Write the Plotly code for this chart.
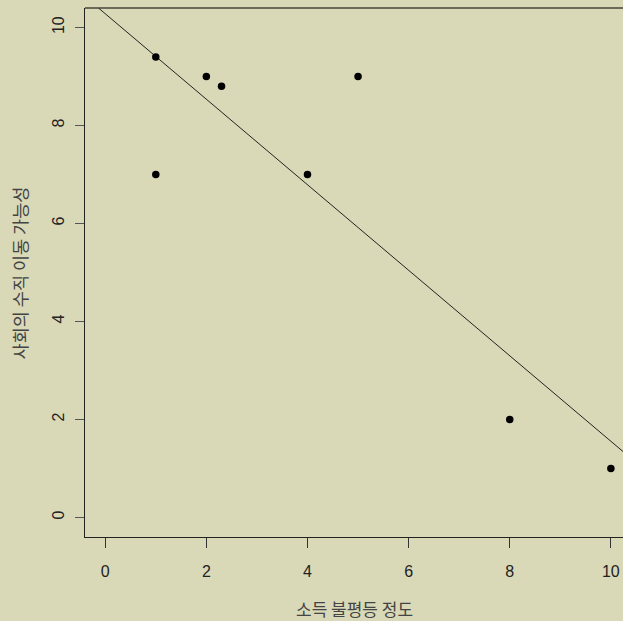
import numpy as np
import plotly.graph_objects as go

income_inequality = [1, 1, 2, 2.3, 4, 5, 8, 10]
social_mobility = [9.4, 7, 9, 8.8, 7, 9, 2, 1]
x_ticks = [0, 2, 4, 6, 8, 10]
y_ticks = [0, 2, 4, 6, 8, 10]
x_title = "소득 불평등 정도"
y_title = "사회의 수직 이동 가능성"

slope, intercept = np.polyfit(income_inequality, social_mobility, 1)
xr = [-0.4, 10.24]
yr = [-0.4, 10.4]
line_x = np.linspace(-1, 11, 50)
line_y = intercept + slope * line_x

bg = "#d9d9b8"
fig = go.Figure()
fig.add_trace(go.Scatter(x=line_x, y=line_y, mode="lines",
                         line=dict(color="#222222", width=1), hoverinfo="skip"))
fig.add_trace(go.Scatter(x=income_inequality, y=social_mobility, mode="markers",
                         marker=dict(color="black", size=7.5), cliponaxis=False))

fig.update_layout(
    width=623, height=621,
    margin=dict(l=85, r=0, t=8, b=84),
    paper_bgcolor=bg, plot_bgcolor=bg,
    showlegend=False,
    font=dict(family="Liberation Sans, Arial, sans-serif", size=16, color="#222222"),
)
fig.update_xaxes(range=xr, tickvals=x_ticks, showgrid=False, zeroline=False,
                 showline=True, linecolor="#222222", linewidth=1,
                 ticks="outside", ticklen=10, tickcolor="#333333",
                 ticklabelstandoff=10,
                 tickfont=dict(size=16, color="#222222"))
fig.update_yaxes(range=yr, tickvals=y_ticks, showgrid=False, zeroline=False,
                 showline=True, linecolor="#222222", linewidth=1,
                 ticks="outside", ticklen=9, tickcolor="#555555", tickangle=-90,
                 ticklabelstandoff=5,
                 tickfont=dict(size=16, color="#222222"))
fig.add_annotation(text=x_title, xref="paper", yref="paper", x=0.5, y=-0.136,
                   xanchor="center", yanchor="middle", showarrow=False,
                   font=dict(family="Noto Sans CJK KR", size=17, color="#444444"))
fig.add_annotation(text=y_title, xref="paper", yref="paper", x=-0.121, y=0.5,
                   xanchor="center", yanchor="middle", showarrow=False, textangle=-90,
                   font=dict(family="Noto Sans CJK KR", size=17.5, color="#444444"))
# top border line of the plot box
fig.add_shape(type="line", xref="paper", yref="paper", x0=0, x1=1, y0=1, y1=1,
              line=dict(color="#444438", width=1.5))
fig.write_html("out.html", config={"displayModeBar": False},
               post_script="document.body.style.margin='0';document.body.style.overflow='hidden';")
